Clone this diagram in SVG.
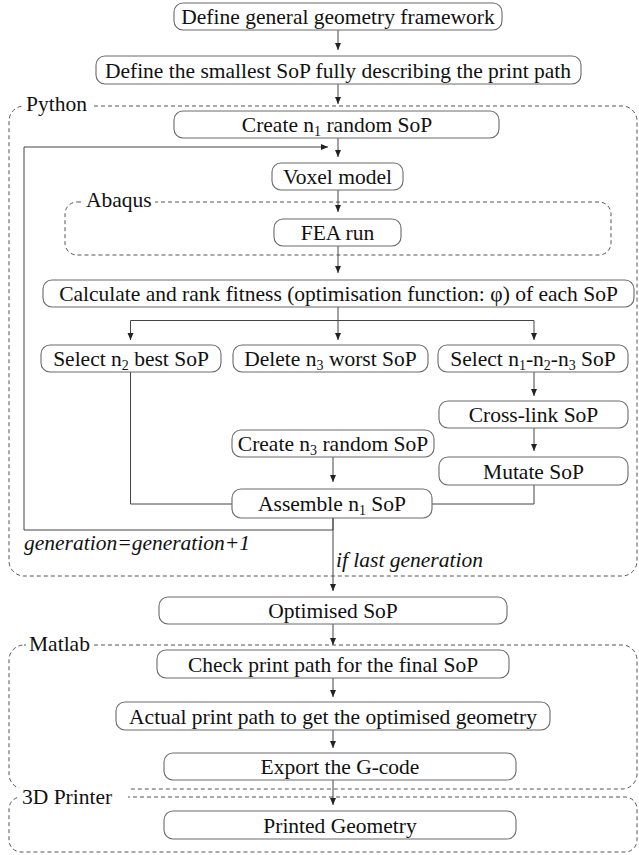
<svg xmlns="http://www.w3.org/2000/svg" width="639" height="855" viewBox="0 0 639 855">
<style>
  .box { fill: #fff; stroke: #6a6a6a; stroke-width: 1.1; }
  .cont { fill: none; stroke: #555; stroke-width: 1; stroke-dasharray: 4 3; }
  .t { font-family: 'Liberation Serif', 'Times New Roman', Times, 'DejaVu Serif', serif; font-size: 21.5px; fill: #111; }
  .c { text-anchor: middle; }
  .it { font-style: italic; }
  .ln { fill: none; stroke: #444; stroke-width: 1; }
  .bg { fill: #fff; }
</style>
<defs>
  <marker id="ah" markerUnits="userSpaceOnUse" markerWidth="8" markerHeight="8" refX="7" refY="3" orient="auto">
    <path d="M0,0 L7,3 L0,6 Z" fill="#222"/>
  </marker>
</defs>

<g font-family="Liberation Serif, Times New Roman, serif">
<!-- Containers -->
<g id="python">
  <rect class="cont" x="9" y="106" width="628" height="470" rx="15"/>
  <rect class="bg" x="24" y="95" width="67" height="20"/>
  <text class="t" x="26" y="111">Python</text>
</g>
<g id="abaqus">
  <rect class="cont" x="65" y="202" width="546" height="53" rx="12"/>
  <rect class="bg" x="83" y="192" width="72" height="20"/>
  <text class="t" x="86" y="207">Abaqus</text>
</g>
<g id="matlab">
  <rect class="cont" x="9" y="645" width="628" height="144" rx="15"/>
  <rect class="bg" x="26" y="634" width="67" height="20"/>
  <text class="t" x="29" y="651">Matlab</text>
</g>
<g id="printer">
  <rect class="cont" x="9" y="797" width="628" height="55" rx="12"/>
  <rect class="bg" x="19" y="788" width="109" height="20"/>
  <text class="t" x="22" y="804">3D Printer</text>
</g>

<!-- Connectors -->
<g id="connectors">
  <line class="ln" x1="338" y1="30" x2="338" y2="50" marker-end="url(#ah)"/>
  <line class="ln" x1="338" y1="84" x2="338" y2="104" marker-end="url(#ah)"/>
  <line class="ln" x1="338" y1="138" x2="338" y2="157" marker-end="url(#ah)"/>
  <line class="ln" x1="338" y1="190" x2="338" y2="212" marker-end="url(#ah)"/>
  <line class="ln" x1="338" y1="246" x2="338" y2="273" marker-end="url(#ah)"/>
  <polyline class="ln" points="338,306 338,320.5"/>
  <polyline class="ln" points="130.5,320.5 534,320.5"/>
  <line class="ln" x1="130.5" y1="320.5" x2="130.5" y2="340" marker-end="url(#ah)"/>
  <line class="ln" x1="338" y1="320.5" x2="338" y2="340" marker-end="url(#ah)"/>
  <line class="ln" x1="534" y1="320.5" x2="534" y2="340" marker-end="url(#ah)"/>
  <line class="ln" x1="534" y1="372" x2="534" y2="396" marker-end="url(#ah)"/>
  <line class="ln" x1="534" y1="428" x2="534" y2="451" marker-end="url(#ah)"/>
  <line class="ln" x1="333" y1="457" x2="333" y2="482" marker-end="url(#ah)"/>
  <polyline class="ln" points="130.5,372 130.5,504 232,504"/>
  <polyline class="ln" points="534,485 534,504 432,504"/>
  <polyline class="ln" points="333,518 333,530 24,530 24,147 328,147" marker-end="url(#ah)"/>
  <line class="ln" x1="333" y1="518" x2="333" y2="591" marker-end="url(#ah)"/>
  <line class="ln" x1="333" y1="624" x2="333" y2="645" marker-end="url(#ah)"/>
  <line class="ln" x1="333" y1="678" x2="333" y2="697" marker-end="url(#ah)"/>
  <line class="ln" x1="333" y1="730" x2="333" y2="748" marker-end="url(#ah)"/>
  <line class="ln" x1="333" y1="780" x2="333" y2="805" marker-end="url(#ah)"/>
  <text class="t it" x="24" y="550">generation=generation+1</text>
  <text class="t it" x="336" y="567">if last generation</text>
</g>

<!-- Nodes -->
<g id="n1"><rect class="box" x="174" y="3" width="328" height="27" rx="9"/>
  <text class="t c" x="338" y="24">Define general geometry framework</text></g>
<g id="n2"><rect class="box" x="96" y="56" width="485" height="28" rx="9"/>
  <text class="t c" x="338" y="77.5">Define the smallest SoP fully describing the print path</text></g>
<g id="n3"><rect class="box" x="174" y="111" width="325" height="27" rx="9"/>
  <text class="t c" x="337" y="132">Create n<tspan font-size="14" dy="4">1</tspan><tspan dy="-4"> random SoP</tspan></text></g>
<g id="n4"><rect class="box" x="272" y="163" width="131" height="27" rx="9"/>
  <text class="t c" x="337.5" y="184">Voxel model</text></g>
<g id="n5"><rect class="box" x="274" y="219" width="127" height="27" rx="9"/>
  <text class="t c" x="337.5" y="240">FEA run</text></g>
<g id="n6"><rect class="box" x="43" y="280" width="591" height="27" rx="9"/>
  <text class="t c" x="338.5" y="301">Calculate and rank fitness (optimisation function: φ) of each SoP</text></g>
<g id="n7"><rect class="box" x="41" y="345" width="180" height="27" rx="9"/>
  <text class="t c" x="131" y="366">Select n<tspan font-size="14" dy="4">2</tspan><tspan dy="-4"> best SoP</tspan></text></g>
<g id="n8"><rect class="box" x="233" y="345" width="195" height="27" rx="9"/>
  <text class="t c" x="330.5" y="366">Delete n<tspan font-size="14" dy="4">3</tspan><tspan dy="-4"> worst SoP</tspan></text></g>
<g id="n9"><rect class="box" x="438" y="345" width="190" height="27" rx="9"/>
  <text class="t c" x="533" y="366">Select n<tspan font-size="14" dy="4">1</tspan><tspan dy="-4">-n</tspan><tspan font-size="14" dy="4">2</tspan><tspan dy="-4">-n</tspan><tspan font-size="14" dy="4">3</tspan><tspan dy="-4"> SoP</tspan></text></g>
<g id="n10"><rect class="box" x="439" y="401" width="189" height="27" rx="9"/>
  <text class="t c" x="533.5" y="422">Cross-link SoP</text></g>
<g id="n11"><rect class="box" x="232" y="430" width="202" height="27" rx="9"/>
  <text class="t c" x="333" y="451">Create n<tspan font-size="14" dy="4">3</tspan><tspan dy="-4"> random SoP</tspan></text></g>
<g id="n12"><rect class="box" x="439" y="457" width="189" height="28" rx="9"/>
  <text class="t c" x="533.5" y="478.5">Mutate SoP</text></g>
<g id="n13"><rect class="box" x="232" y="489" width="200" height="29" rx="9"/>
  <text class="t c" x="332" y="511">Assemble n<tspan font-size="14" dy="4">1</tspan><tspan dy="-4"> SoP</tspan></text></g>
<g id="n14"><rect class="box" x="159" y="597" width="348" height="27" rx="9"/>
  <text class="t c" x="333" y="618">Optimised SoP</text></g>
<g id="n15"><rect class="box" x="157" y="650" width="352" height="28" rx="9"/>
  <text class="t c" x="333" y="671.5">Check print path for the final SoP</text></g>
<g id="n16"><rect class="box" x="116" y="702" width="434" height="28" rx="9"/>
  <text class="t c" x="333" y="723.5">Actual print path to get the optimised geometry</text></g>
<g id="n17"><rect class="box" x="164" y="753" width="352" height="27" rx="9"/>
  <text class="t c" x="340" y="774">Export the G-code</text></g>
<g id="n18"><rect class="box" x="164" y="811" width="352" height="28" rx="9"/>
  <text class="t c" x="340" y="832.5">Printed Geometry</text></g>
</g>
</svg>
